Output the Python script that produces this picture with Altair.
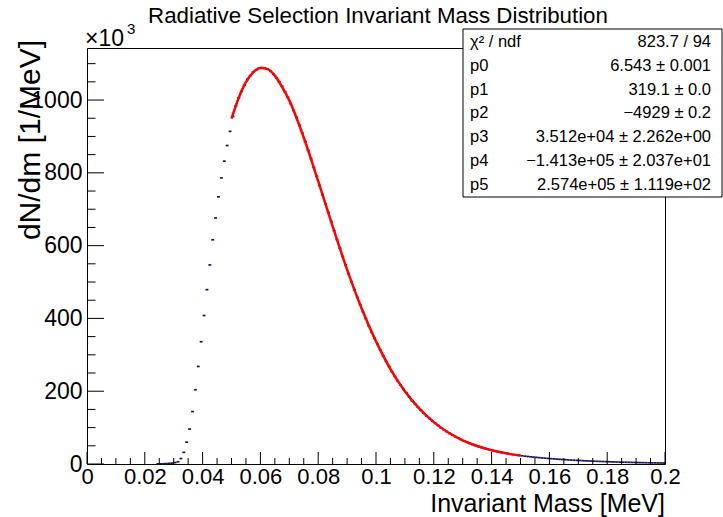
import altair as alt
import pandas as pd

FONT = "Liberation Sans"

title_text = "Radiative Selection Invariant Mass Distribution"
x_title = "Invariant Mass [MeV]"
y_title = "dN/dm [1/MeV]"
exp_label = "×10"
exp_power = "3"

# histogram: first bin centre and bin width (MeV), contents in units of 10^3 / MeV
bin_first_center = 0.0245
bin_width = 0.001
counts = [
    0.3, 0.5, 0.8, 1.2, 1.8, 2.5, 4, 6, 15, 32,
    60, 96, 144, 204, 268, 336, 408, 479, 547, 616,
    676, 734, 786, 832, 875, 914,
    955, 984, 1006, 1024, 1041, 1057, 1067, 1077, 1082, 1087,
    1089, 1088, 1085, 1079, 1071, 1061, 1050, 1038, 1023, 1008,
    990, 971, 952, 931, 909, 886, 862, 839, 815, 791,
    765, 740, 715, 691, 666, 641, 617, 593, 570, 547,
    523, 501, 479, 458, 438, 418, 399, 380, 362, 345,
    329, 313, 297, 282, 268, 254, 241, 229, 217, 205,
    195, 184, 174, 165, 156, 148, 140, 132, 125, 118,
    111.5, 105.3, 99.5, 94.0, 88.7, 84.0, 79.3, 75.0, 70.8, 66.9,
    63.4, 59.9, 56.7, 53.6, 50.7, 48.1, 45.5, 43.1, 40.8, 38.7,
    36.8, 35.0, 33.2, 31.5, 30.0, 28.6, 27.2, 26.0, 24.8, 23.6,
    22.6, 21.6, 20.7, 19.8, 19.0, 18.2, 17.4, 16.7, 16.0, 15.3,
    14.7, 14.1, 13.5, 12.9, 12.4, 11.9, 11.4, 10.9, 10.4, 10.0,
    9.6, 9.2, 8.8, 8.4, 8.1, 7.7, 7.4, 7.1, 6.8, 6.5,
    6.2, 5.9, 5.7, 5.4, 5.2, 5.0, 4.8, 4.6, 4.4, 4.2,
    4.0, 3.8, 3.7, 3.5, 3.4, 3.2, 3.1, 2.9, 2.8, 2.7,
]

# fitted curve (0.05 - 0.15 MeV)
fit_x = [0.05, 0.0525, 0.055, 0.0575, 0.06, 0.0625, 0.065, 0.0675, 0.07, 0.075,
         0.08, 0.085, 0.09, 0.095, 0.10, 0.105, 0.11, 0.115, 0.12, 0.125,
         0.13, 0.135, 0.14, 0.145, 0.15]
fit_y = [949, 1006, 1049, 1076, 1088, 1085, 1067, 1036, 999, 897,
         777, 653, 534, 428, 337, 261, 200, 152, 115, 86.4,
         65.2, 49.4, 37.8, 29.3, 23.1]

x_major = [0, 0.02, 0.04, 0.06, 0.08, 0.1, 0.12, 0.14, 0.16, 0.18, 0.2]
y_major = [0, 200, 400, 600, 800, 1000]
y_max = 1143

stat_names = ["χ² / ndf", "p0", "p1", "p2", "p3", "p4", "p5"]
stat_values = ["823.7 / 94", "6.543 ± 0.001", "319.1 ± 0.0", "−4929 ± 0.2",
               "3.512e+04 ± 2.262e+00", "−1.413e+05 ± 2.037e+01",
               "2.574e+05 ± 1.119e+02"]

W, H = 578, 416
NAVY = "#15155c"

centers = [round(bin_first_center + i * bin_width, 4) for i in range(len(counts))]
hist = pd.DataFrame({"center": centers, "val": counts})
hist["lo"] = hist["center"] - bin_width / 2
hist["hi"] = hist["center"] + bin_width / 2
fit = pd.DataFrame({"x": fit_x, "y": fit_y})

xs = alt.Scale(domain=[0, 0.2], nice=False, zero=False)
ys = alt.Scale(domain=[0, y_max], nice=False)

x_axis = alt.Axis(values=x_major, format="~g", title=None, ticks=False, domain=False,
                  grid=False, labelFontSize=22, labelFont=FONT, labelColor="black",
                  labelPadding=2, labelOverlap=False, labelFlush=False)
y_axis = alt.Axis(values=y_major, format="d", title=None, ticks=False, domain=False,
                  grid=False, labelFontSize=23, labelFont=FONT, labelColor="black",
                  labelPadding=5, labelOverlap=False, labelFlush=False)

hist_layer = alt.Chart(hist).mark_rule(color=NAVY, strokeWidth=1.7).encode(
    x=alt.X("lo:Q", scale=xs, axis=x_axis),
    x2="hi:Q",
    y=alt.Y("val:Q", scale=ys, axis=y_axis),
)

fit_layer = alt.Chart(fit).mark_line(color="#ff0000", strokeWidth=2.5,
                                     interpolate="monotone").encode(
    x=alt.X("x:Q", scale=xs, axis=x_axis),
    y=alt.Y("y:Q", scale=ys, axis=y_axis),
)

x_minor = [round(i * 0.005, 3) for i in range(41) if i % 4]
y_minor = [i * 50 for i in range(23) if i % 4]

def xticks(vals, length):
    return alt.Chart(pd.DataFrame({"v": vals})).mark_rule(color="black", strokeWidth=1).encode(
        x=alt.X("v:Q", scale=xs, axis=x_axis), y=alt.value(H), y2=alt.value(H - length))

def yticks(vals, length):
    return alt.Chart(pd.DataFrame({"v": vals})).mark_rule(color="black", strokeWidth=1).encode(
        y=alt.Y("v:Q", scale=ys, axis=y_axis), x=alt.value(0), x2=alt.value(length))

one = pd.DataFrame({"a": [0]})

def text(t, x, y, size, align="left", baseline="alphabetic", angle=0):
    return alt.Chart(one).mark_text(text=t, font=FONT, fontSize=size, align=align,
                                    baseline=baseline, angle=angle, color="black").encode(
        x=alt.value(x), y=alt.value(y))

box = alt.Chart(one).mark_rect(fill="white", stroke="black", strokeWidth=1).encode(
    x=alt.value(376), x2=alt.value(635), y=alt.value(-19), y2=alt.value(149))

layers = [hist_layer, fit_layer,
          xticks(x_major, 12), xticks(x_minor, 6),
          yticks(y_major, 17), yticks(y_minor, 8.5),
          text(title_text, 291, -25, 22.3, align="center"),
          text(exp_label, -2, -2, 23),
          text(exp_power, 40, -14, 15),
          text(x_title, W, 464, 25, align="right"),
          text(y_title, -47, -8, 30, align="right", angle=270),
          box]
for i, (n, v) in enumerate(zip(stat_names, stat_values)):
    yy = -6 + i * 23.8
    layers.append(text(n, 383, yy, 16.5, baseline="middle"))
    layers.append(text(v, 624, yy, 16.5, align="right", baseline="middle"))

chart = alt.layer(*layers).properties(
    width=W, height=H,
    autosize=alt.AutoSizeParams(type="none"),
    padding={"left": 87, "top": 48, "right": 58, "bottom": 53},
    background="white",
).configure_view(stroke="black", strokeWidth=1)

chart.save("out.html", embed_options={"renderer": "svg", "actions": False})
